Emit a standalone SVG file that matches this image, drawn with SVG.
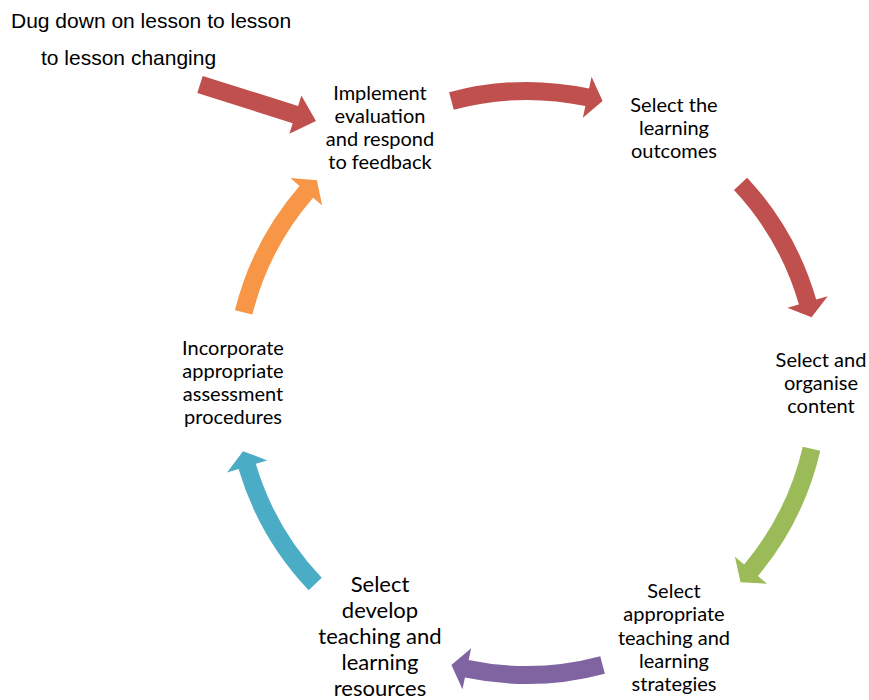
<svg xmlns="http://www.w3.org/2000/svg" xmlns:xlink="http://www.w3.org/1999/xlink" width="869" height="700" viewBox="0 0 869 700">
<style>
.lbl{font-family:Lato,"Open Sans","Liberation Sans",sans-serif;font-size:20px;fill:#000;text-anchor:middle}
.big{font-size:22px}
.note{font-family:"Liberation Sans",Arial,sans-serif;font-size:21px;fill:#000}
.red{fill:#C0504D}.green{fill:#9BBB59}.purple{fill:#8064A2}.teal{fill:#4BACC6}.orange{fill:#F79646}
</style>
<defs>
<path id="arc" d="M290.75,-77.90 A301,301 0 0 1 294.53,62.07 L306.27,64.54 L282.05,75.58 L265.18,55.88 L276.92,58.35 A283,283 0 0 0 273.36,-73.25 Z"/>
</defs>
<rect width="869" height="700" fill="#fff"/>
<g id="connectors">
<use xlink:href="#arc" href="#arc" class="red" transform="translate(527,383) rotate(-90)"/>
<use xlink:href="#arc" href="#arc" class="red" transform="translate(527,383) rotate(-28)"/>
<use xlink:href="#arc" href="#arc" class="green" transform="translate(527,383) rotate(28)"/>
<use xlink:href="#arc" href="#arc" class="purple" transform="translate(527,383) rotate(90)"/>
<use xlink:href="#arc" href="#arc" class="teal" transform="translate(527,383) rotate(151.5)"/>
<use xlink:href="#arc" href="#arc" class="orange" transform="translate(527,383) rotate(209)"/>
<polygon class="red" transform="translate(200,84.5) rotate(17.5)" points="0,-9 100,-9 100,-20 121.6,0 100,20 100,9 0,9"/>
</g>
<g id="note">
<text class="note" x="11" y="28">Dug down on lesson to lesson</text>
<text class="note" x="41" y="65">to lesson changing</text>
</g>
<g id="n1"><text class="lbl"><tspan x="380" y="100">Implement</tspan><tspan x="380" y="123">evaluation</tspan><tspan x="380" y="146">and respond</tspan><tspan x="380" y="169">to feedback</tspan></text></g>
<g id="n2"><text class="lbl"><tspan x="674" y="112">Select the</tspan><tspan x="674" y="135">learning</tspan><tspan x="674" y="158">outcomes</tspan></text></g>
<g id="n3"><text class="lbl"><tspan x="821" y="367">Select and</tspan><tspan x="821" y="390">organise</tspan><tspan x="821" y="413">content</tspan></text></g>
<g id="n4"><text class="lbl"><tspan x="674" y="598">Select</tspan><tspan x="674" y="621">appropriate</tspan><tspan x="674" y="644.5">teaching and</tspan><tspan x="674" y="668">learning</tspan><tspan x="674" y="691">strategies</tspan></text></g>
<g id="n5"><text class="lbl big"><tspan x="380" y="592">Select</tspan><tspan x="380" y="618">develop</tspan><tspan x="380" y="644">teaching and</tspan><tspan x="380" y="670">learning</tspan><tspan x="380" y="696">resources</tspan></text></g>
<g id="n6"><text class="lbl"><tspan x="233" y="355">Incorporate</tspan><tspan x="233" y="378">appropriate</tspan><tspan x="233" y="401">assessment</tspan><tspan x="233" y="424">procedures</tspan></text></g>
</svg>
